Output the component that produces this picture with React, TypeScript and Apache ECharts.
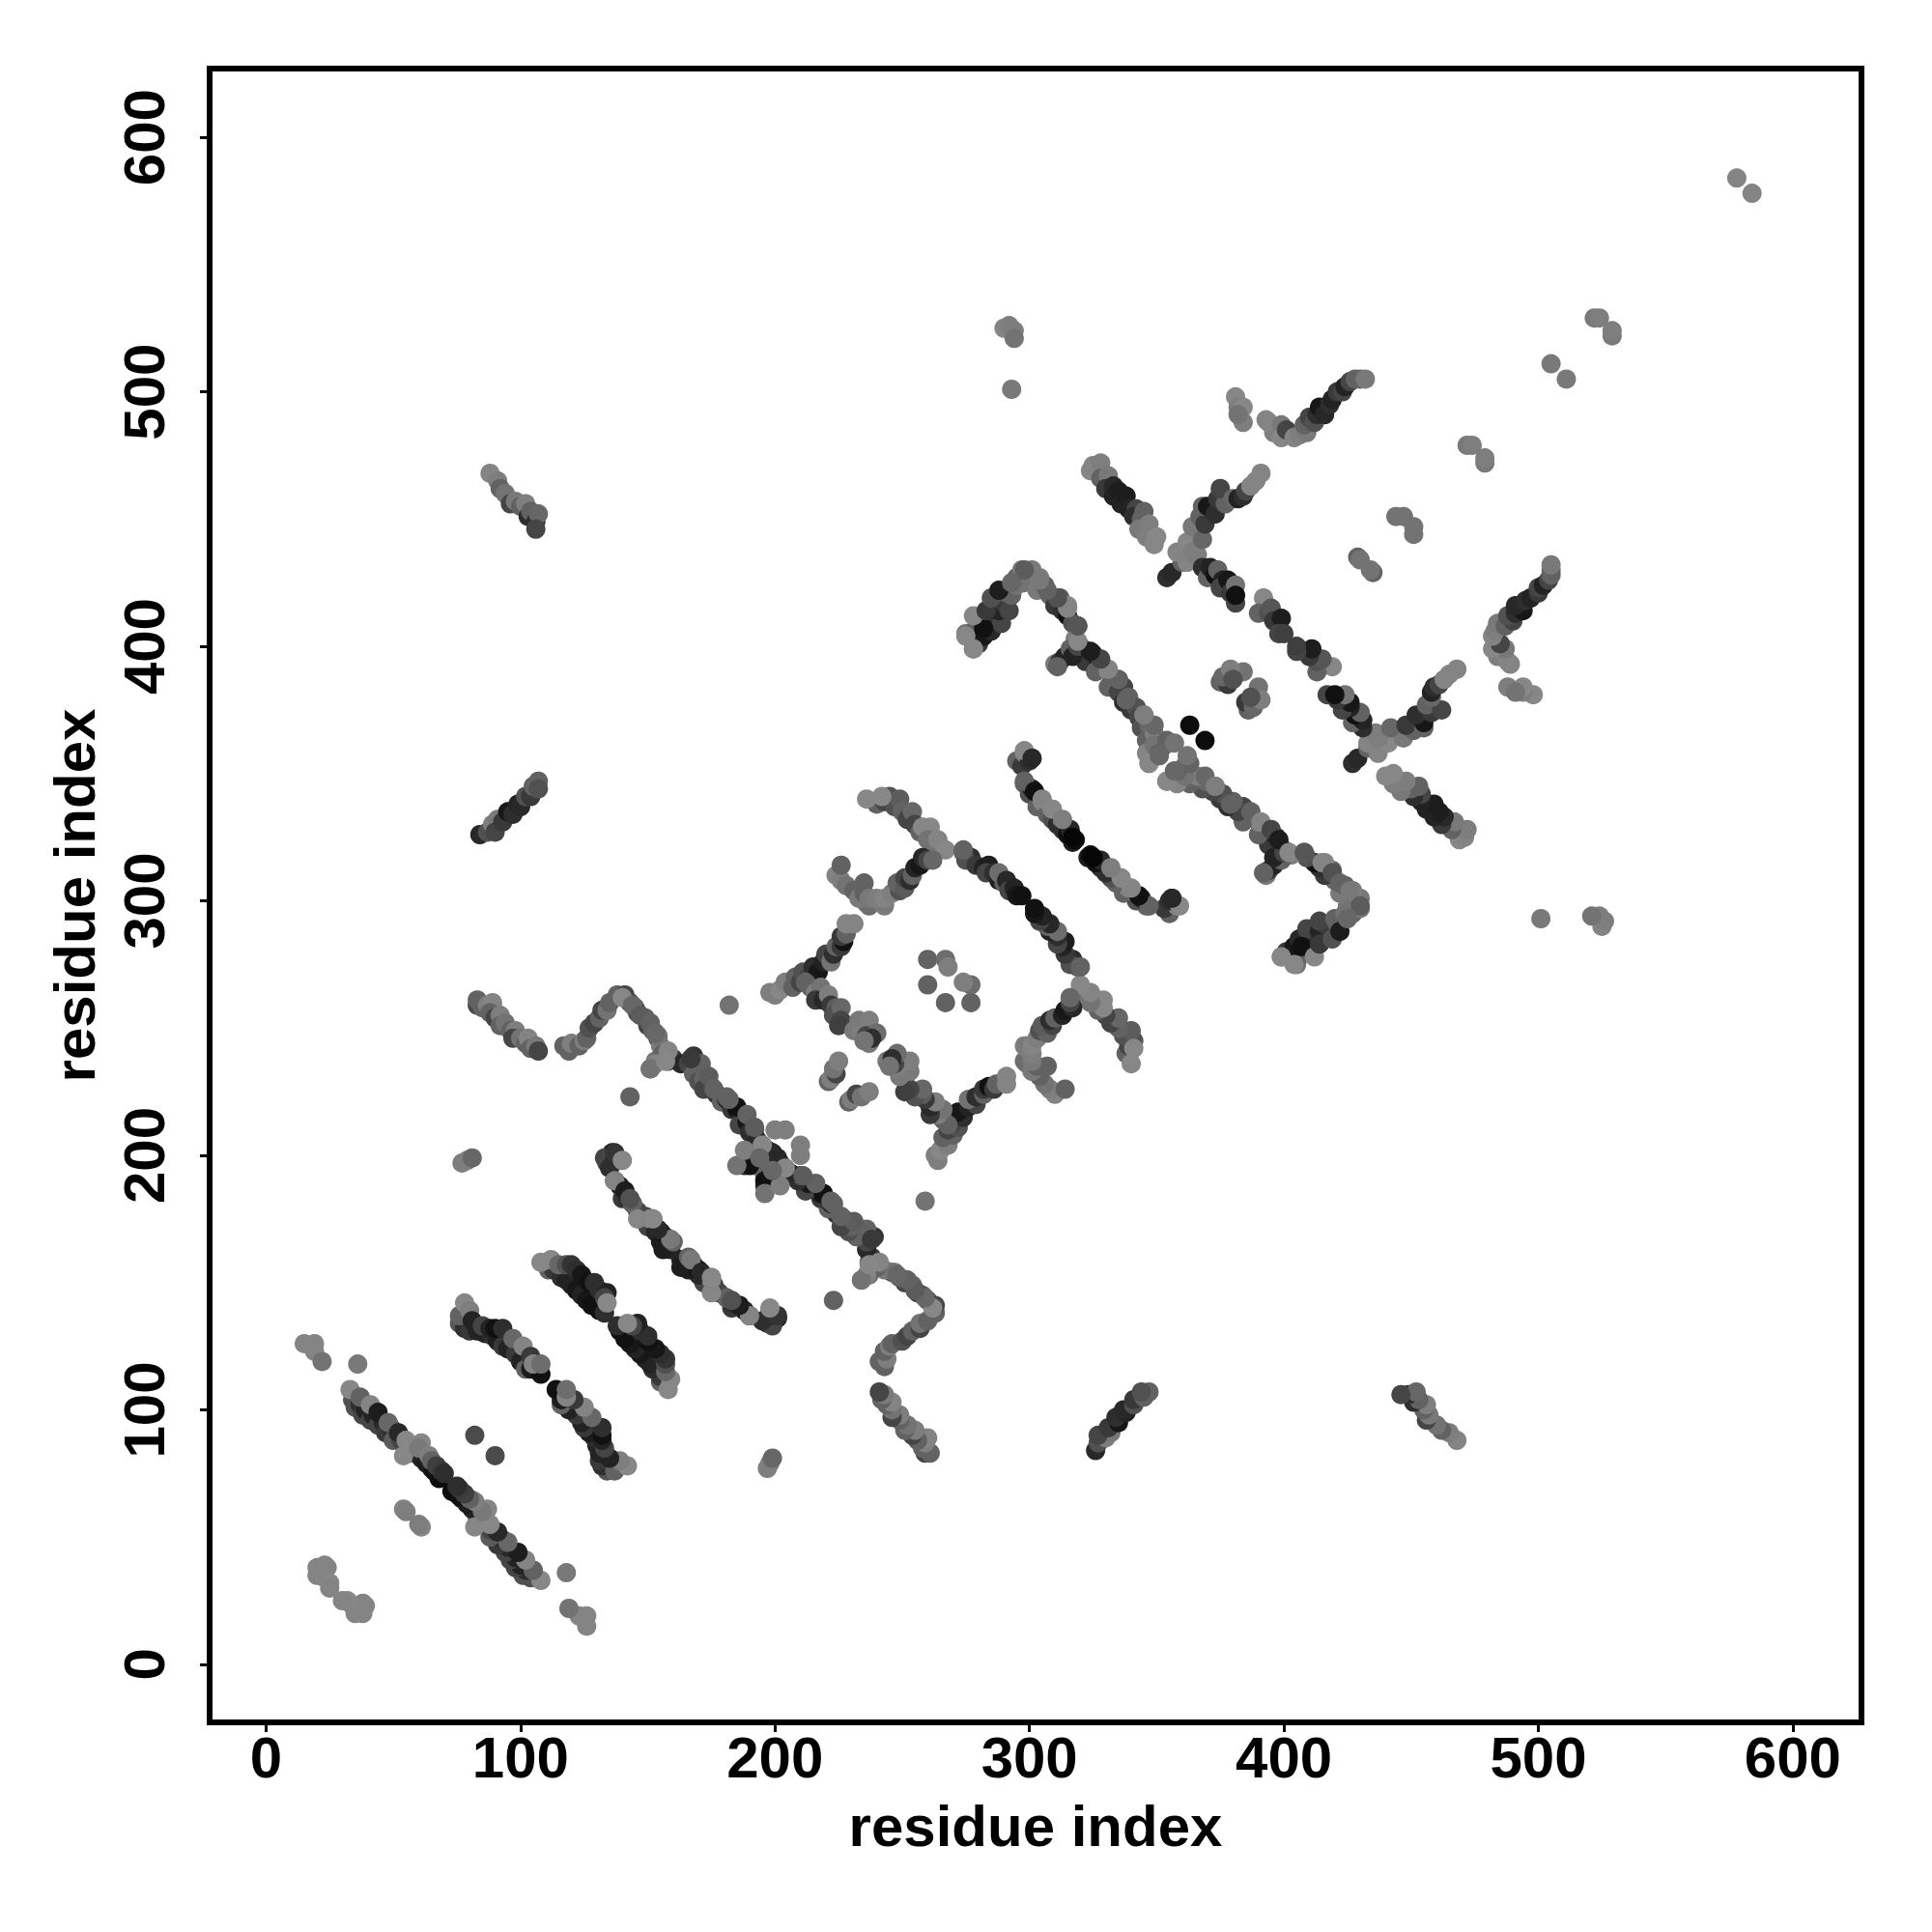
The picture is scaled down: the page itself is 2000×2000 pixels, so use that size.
import React, { useEffect, useRef } from "react";
import * as echarts from "echarts";

const tickValues = [0, 100, 200, 300, 400, 500, 600];
const xName = "residue index";
const yName = "residue index";

// Contacts of the upper triangle: [residue i, residue j, grey level]
const farCorner = [[15,126,115],[19,126,115],[19,123,115],[22,119,100],[36,118,105],[20,38,115],[24,38,115],[20,35,115],[23,34,115],[25,32,120],[25,30,115],[23,39,115],[54,61,115],[55,60,110],[82,90,65]];
const strandA = [[34,104,70],[35,101,70],[37,102,40],[38,98,60],[39,100,30],[41,96,60],[42,98,30],[44,94,60],[46,95,35],[47,91,50],[49,93,40],[50,88,80],[53,88,60],[56,85,80],[57,83,100],[60,84,50],[61,81,30],[63,79,25],[65,77,25],[67,75,20],[68,73,10],[66,76,15],[33,108,125],[37,105,85],[41,102,115],[44,99,25],[48,95,90],[52,91,35],[55,88,125],[61,87,125],[54,82,120],[60,85,105],[64,82,110],[65,80,85],[67,78,55],[69,76,50],[70,75,40]];
const strandD = [[76,134,75],[78,132,40],[80,131,50],[83,131,30],[86,130,30],[89,129,40],[91,127,25],[93,125,50],[95,124,30],[98,122,50],[100,119,30],[102,116,85],[104,116,25],[108,114,15],[76,137,85],[78,142,120],[80,139,110],[81,135,30],[85,133,60],[88,132,30],[90,132,15],[93,132,40],[97,128,90],[101,125,115],[104,121,50],[105,118,115],[108,118,95]];
const strandE = [[111,155,85],[113,155,50],[116,152,40],[118,151,30],[120,149,30],[122,147,20],[124,145,30],[126,143,20],[128,141,15],[131,139,15],[133,138,40],[108,158,125],[112,159,125],[115,157,90],[118,157,70],[120,157,45],[122,155,40],[124,153,20],[127,150,15],[129,150,40],[131,147,40],[134,146,30],[133,144,60],[134,142,125]];
const strandF = [[134,197,50],[136,201,30],[139,198,110],[133,199,60],[137,198,40],[135,195,40],[137,190,50],[139,188,30],[141,186,25],[140,183,50],[142,183,40],[144,181,85],[146,178,60],[147,175,90],[149,176,60],[152,175,125],[150,172,60],[153,170,35],[155,168,40],[157,168,60],[155,166,25],[157,164,40],[159,163,30],[156,163,25],[160,166,85]];
const strandG = [[83,259,60],[83,261,85],[85,258,85],[87,259,110],[89,260,115],[88,256,85],[90,254,60],[92,255,110],[92,251,85],[94,252,100],[96,249,85],[98,249,110],[97,246,60],[100,246,100],[102,244,85],[103,246,115],[104,242,85],[106,243,105],[107,241,60]];
const strandH = [[117,243,85],[119,241,85],[120,244,110],[123,243,85],[125,245,110],[126,246,85],[127,250,70],[129,252,60],[131,254,85],[132,257,60],[134,257,100],[135,260,85],[138,263,85],[141,263,60],[143,260,60],[145,258,85],[146,256,60],[149,254,85],[150,251,60],[152,249,85],[154,246,60],[155,243,105],[151,234,90],[153,237,100],[156,240,85],[158,237,60],[160,238,50],[163,236,35],[166,236,60],[168,232,85],[170,229,70],[172,230,85],[172,226,60],[175,227,60],[177,224,50],[179,221,85],[181,222,30],[183,218,50],[185,218,25],[187,215,40],[186,212,60],[189,213,20],[190,209,40],[192,210,60],[193,206,35],[195,204,60],[197,202,40],[199,201,35],[188,196,40],[190,199,70],[192,196,85],[193,200,60]];
const isolatedMid = [[143,223,85],[77,197,110],[79,198,110],[81,199,90],[182,259,100],[200,210,110],[204,210,110],[260,277,85],[267,277,95],[268,274,110],[260,267,85]];
const strandI = [[198,264,110],[200,263,110],[202,265,120],[204,268,110],[207,266,85],[208,270,85],[210,268,60],[211,272,70],[213,270,60],[215,269,50],[215,274,40],[217,272,20],[219,276,30],[220,279,60],[222,276,100],[223,279,40],[224,282,85],[226,282,50],[227,284,15],[226,286,50],[228,287,85],[228,291,115],[231,291,115],[212,268,85],[214,266,85],[216,264,110],[218,266,100],[216,261,50],[219,261,35],[221,263,110],[222,259,50],[224,258,80],[223,255,70],[226,258,90],[226,253,60],[225,251,55]];
const clusterC = [[221,229,85],[222,230,110],[224,232,60],[223,234,100],[225,237,110],[231,249,105],[233,253,105],[237,253,110],[234,248,110],[236,247,60],[240,248,95],[237,244,105],[238,246,40],[235,245,100]];
const strandJ = [[240,338,85],[243,339,60],[245,341,70],[247,337,70],[249,340,80],[250,335,85],[252,332,60],[254,335,90],[255,330,60],[257,327,85],[258,329,120],[261,329,120],[260,324,100],[262,322,100],[264,324,115],[267,320,125],[236,340,120],[242,341,120],[235,307,85],[236,299,100],[237,298,95],[240,300,100],[243,298,110],[243,299,105],[224,310,115],[226,308,110],[226,314,85],[228,306,100],[231,304,85],[233,301,105],[235,303,85],[237,301,105],[240,301,110],[243,301,115],[246,303,110],[249,304,70],[248,307,85],[251,305,80],[251,309,60],[253,308,40],[254,310,85],[255,313,30],[257,314,20],[258,317,35],[260,316,60],[262,316,90]];
const strandK = [[274,319,85],[277,317,40],[275,316,70],[279,314,50],[282,313,30],[284,314,25],[283,311,60],[286,311,40],[288,308,30],[290,307,85],[288,311,95],[291,308,35],[292,304,60],[294,305,30],[295,302,20],[297,302,15],[274,320,85]];
const strandL = [[295,355,85],[297,353,50],[298,358,115],[300,355,40],[301,356,35],[298,346,85],[300,342,70],[301,344,30],[303,340,60],[303,337,85],[305,339,115],[307,334,85],[309,336,115],[309,332,70],[311,330,40],[313,331,85],[313,328,40],[315,326,15],[316,328,35],[317,323,25],[318,324,10]];
const strandM = [[278,399,120],[275,405,100],[277,403,70],[280,401,50],[279,407,85],[282,404,20],[284,408,60],[285,406,35],[287,411,40],[289,409,60],[288,414,30],[290,417,50],[292,414,60],[293,420,85],[291,421,85],[295,424,100],[295,427,85],[297,430,105],[298,425,100],[301,430,105],[304,427,110],[303,422,105],[306,424,85],[308,420,90],[310,416,50],[312,419,85],[313,414,40],[315,412,15],[315,416,125],[317,409,70],[319,408,100],[318,403,110],[320,400,80],[323,398,35],[322,394,50],[325,397,40],[327,395,30],[329,392,60],[326,390,85],[331,390,110],[334,387,85],[331,384,85],[335,382,60],[337,384,60],[337,378,40],[339,380,85],[340,375,50],[342,376,70],[343,372,60],[345,373,90],[344,368,70],[347,369,90],[346,363,85],[349,366,110],[346,358,115],[349,361,100],[351,357,105],[353,361,100],[354,363,85],[347,354,115],[351,358,85],[357,362,100]];
const sideBranch = [[310,393,105],[312,394,50],[314,396,30],[316,399,85],[317,396,30],[319,400,60]];
const strandN = [[324,469,125],[325,471,115],[328,472,110],[328,466,85],[331,467,105],[330,462,50],[333,463,35],[333,459,30],[335,461,25],[336,456,30],[338,459,25],[339,454,30],[342,454,60],[341,451,40],[344,450,85],[345,453,85],[343,446,105],[347,448,110],[346,443,110],[349,440,120],[350,443,120]];
const strandO = [[354,427,40],[356,429,35],[360,433,85],[358,437,115],[362,433,115],[362,441,120],[364,437,110],[366,436,110],[364,447,105],[368,442,90],[367,451,85],[369,448,50],[368,455,85],[370,455,20],[373,452,40],[374,458,50],[377,456,85],[375,462,60],[380,458,90],[382,458,30],[384,459,40],[385,461,60],[387,463,115],[389,465,115],[391,468,115]];
const strandP = [[368,431,40],[370,427,85],[371,431,30],[373,428,15],[374,430,85],[376,426,30],[375,423,60],[378,426,20],[379,421,50],[381,424,100],[381,417,60],[381,420,15]];
const strandQ = [[392,419,120],[390,413,85],[394,413,70],[395,415,75],[396,410,50],[399,411,25],[398,405,60],[400,405,55]];
const clusterS = [[375,386,85],[378,385,50],[376,388,90],[380,390,115],[384,390,100],[379,391,110],[380,387,70]];
const strandT = [[381,498,120],[382,494,110],[384,494,125],[384,488,110],[382,491,100],[393,489,115],[396,484,110],[394,488,115],[399,487,105],[399,482,120],[401,485,60],[404,482,115],[406,483,110],[409,484,105],[408,487,85],[410,490,60],[412,488,70],[413,491,40],[414,494,20],[416,491,35],[418,495,40],[419,497,30],[421,500,50],[423,500,60],[424,502,30],[426,504,60],[428,505,85],[430,505,85],[432,505,105]];
const strandV = [[88,468,115],[91,465,110],[92,462,85],[94,460,100],[96,456,60],[98,457,105],[100,455,85],[102,456,110],[103,451,40],[104,453,85],[106,449,40],[107,452,90],[106,446,60]];
const strandW = [[84,326,35],[87,327,70],[89,330,110],[91,332,105],[90,327,60],[93,331,50],[95,335,20],[97,334,40],[99,338,30],[100,337,35],[102,341,70],[104,341,50],[105,345,85],[107,347,85],[107,344,70]];
const isolatedFar = [[290,525,115],[292,526,110],[294,524,110],[294,521,100],[293,501,105],[472,479,105],[474,479,110],[444,451,100],[447,451,100],[429,435,85],[430,434,100],[505,511,105],[522,529,105],[524,529,110],[578,584,115],[363,369,10]];
// Lighter discs lying on top of the strands
const topH = [[140,262,125],[144,259,90],[147,255,80],[151,252,85],[154,247,100],[158,241,115],[153,236,115],[151,234,100],[168,239,45],[171,236,85],[174,231,80],[176,226,85],[181,223,85],[185,219,15],[189,216,85],[192,211,80],[195,204,120],[190,196,15],[185,196,100],[188,202,110],[194,199,90],[182,222,85],[167,238,50],[157,237,120],[153,248,90]];
const topF = [[137,201,45],[140,198,120],[137,190,115],[141,186,25],[144,181,85],[146,175,120],[151,175,115],[155,170,20],[159,167,105],[154,171,35],[152,175,125],[143,183,70]];
const topL = [[298,359,125],[301,356,35],[298,347,85],[302,343,15],[305,340,115],[309,336,120],[313,332,110],[317,325,5]];
const topM = [[347,354,125],[351,357,90],[349,369,90],[345,373,110],[338,379,85],[335,387,85],[331,391,115],[328,395,60],[324,398,25],[319,402,125],[319,408,75],[315,415,115],[311,419,70],[307,422,85],[304,426,105],[298,430,80],[311,392,85],[278,399,125],[275,404,125],[282,407,15],[278,412,120],[283,414,50],[285,419,70],[288,422,25],[293,425,90]];

const upperTriangle = [farCorner, strandA, strandD, strandE, strandF, strandG, strandH, isolatedMid, strandI, clusterC, strandJ, strandK, strandL, strandM, sideBranch, strandN, strandO, strandP, strandQ, clusterS, strandT, strandV, strandW, isolatedFar, topH, topF, topL, topM].flat();

export default function App() {
  const ref = useRef<HTMLDivElement>(null);
  useEffect(() => {
    const chart = echarts.init(ref.current!, null, { renderer: "svg" });
    const font = { fontFamily: "Liberation Sans", fontWeight: "bold" as const, fontSize: 60, color: "#000" };
    const point = (x: number, y: number, g: number) => {
      const level = Math.min(135, Math.round(g * 1.15));
      return { value: [x, y], itemStyle: { color: `rgb(${level},${level},${level})`, opacity: 1 } };
    };
    const data = upperTriangle.flatMap(([x, y, g]) => [point(x, y, g), point(y, x, g)]);
    const axis = {
      type: "value" as const,
      min: -22.2,
      max: 627,
      splitLine: { show: false },
      axisLine: { show: false, onZero: false },
      axisTick: { show: true, length: 10, lineStyle: { width: 3, color: "#000" }, customValues: tickValues },
      nameLocation: "middle" as const,
      nameTextStyle: font,
    };
    chart.setOption({
      animation: false,
      backgroundColor: "#fff",
      grid: { left: 217, right: 73, top: 71, bottom: 217, show: true, borderWidth: 6, borderColor: "#000", backgroundColor: "transparent" },
      xAxis: {
        ...axis,
        name: xName,
        nameGap: 77,
        axisLabel: { ...font, margin: 6, customValues: tickValues },
      },
      yAxis: {
        ...axis,
        min: -22.8,
        max: 627,
        name: yName,
        nameGap: 110,
        nameRotate: 90,
        axisLabel: { ...font, rotate: 90, margin: 68, align: "center", verticalAlign: "middle", customValues: tickValues },
      },
      series: [
        {
          type: "scatter",
          symbol: "circle",
          symbolSize: 20,
          data,
          silent: true,
        },
      ],
    });
    return () => chart.dispose();
  }, []);
  return <div ref={ref} style={{ position: "absolute", left: 0, top: 0, width: 2000, height: 2000 }} />;
}
